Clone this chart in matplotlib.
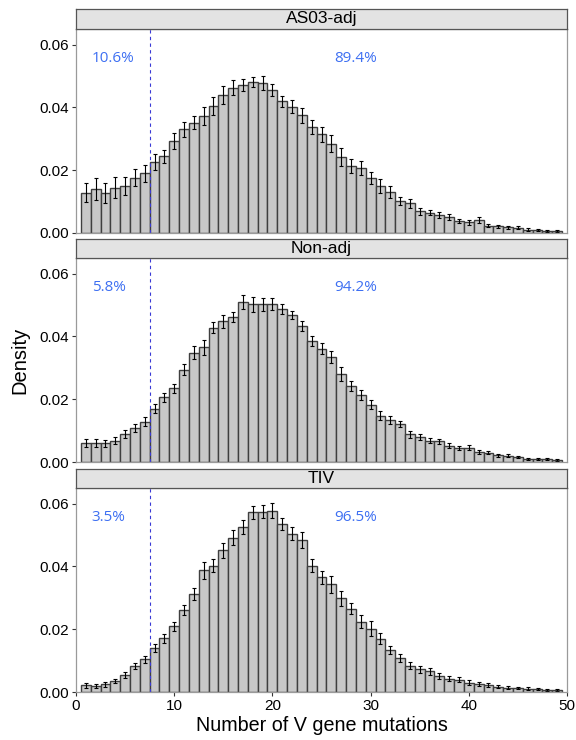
import matplotlib.pyplot as plt
import numpy as np

plt.rcParams['font.family'] = ['Liberation Sans', 'DejaVu Sans']

mutations = np.arange(1, 50)
groups = ['AS03-adj', 'Non-adj', 'TIV']
left_pct = ['10.6%', '5.8%', '3.5%']
right_pct = ['89.4%', '94.2%', '96.5%']

as03 = [0.0128, 0.0141, 0.0127, 0.0144, 0.0151, 0.0176, 0.0190, 0.0226, 0.0244, 0.0293,
        0.0330, 0.0352, 0.0374, 0.0404, 0.0439, 0.0463, 0.0472, 0.0480, 0.0477, 0.0456,
        0.0420, 0.0402, 0.0375, 0.0338, 0.0314, 0.0284, 0.0242, 0.0213, 0.0207, 0.0175,
        0.0149, 0.0130, 0.0103, 0.0094, 0.0069, 0.0065, 0.0058, 0.0051, 0.0038, 0.0034,
        0.0042, 0.0023, 0.0021, 0.0018, 0.0017, 0.0011, 0.0010, 0.0007, 0.0006]
as03_err = [0.0030, 0.0035, 0.0032, 0.0033, 0.0029, 0.0027, 0.0027, 0.0025, 0.0022, 0.0026,
            0.0024, 0.0021, 0.0029, 0.0028, 0.0029, 0.0024, 0.0020, 0.0016, 0.0022, 0.0018,
            0.0018, 0.0021, 0.0023, 0.0022, 0.0024, 0.0027, 0.0028, 0.0022, 0.0023, 0.0020,
            0.0022, 0.0020, 0.0013, 0.0015, 0.0011, 0.0009, 0.0010, 0.0009, 0.0007, 0.0008,
            0.0009, 0.0005, 0.0005, 0.0005, 0.0004, 0.0004, 0.0003, 0.0003, 0.0003]

nonadj = [0.0061, 0.0061, 0.0059, 0.0068, 0.0088, 0.0107, 0.0129, 0.0170, 0.0206, 0.0235,
          0.0294, 0.0348, 0.0365, 0.0428, 0.0448, 0.0461, 0.0511, 0.0502, 0.0502, 0.0502,
          0.0486, 0.0468, 0.0434, 0.0386, 0.0361, 0.0335, 0.0280, 0.0243, 0.0214, 0.0183,
          0.0148, 0.0134, 0.0120, 0.0088, 0.0079, 0.0067, 0.0066, 0.0052, 0.0044, 0.0046,
          0.0032, 0.0030, 0.0022, 0.0020, 0.0016, 0.0010, 0.0010, 0.0009, 0.0006]
nonadj_err = [0.0012, 0.0012, 0.0011, 0.0012, 0.0013, 0.0013, 0.0013, 0.0014, 0.0015, 0.0015,
              0.0018, 0.0021, 0.0024, 0.0017, 0.0020, 0.0016, 0.0022, 0.0024, 0.0022, 0.0019,
              0.0016, 0.0013, 0.0016, 0.0016, 0.0017, 0.0019, 0.0022, 0.0016, 0.0016, 0.0015,
              0.0014, 0.0012, 0.0010, 0.0010, 0.0009, 0.0008, 0.0008, 0.0008, 0.0007, 0.0008,
              0.0006, 0.0005, 0.0005, 0.0004, 0.0004, 0.0003, 0.0003, 0.0003, 0.0003]

tiv = [0.0021, 0.0020, 0.0024, 0.0035, 0.0055, 0.0083, 0.0104, 0.0140, 0.0171, 0.0209,
       0.0260, 0.0313, 0.0388, 0.0403, 0.0451, 0.0492, 0.0526, 0.0572, 0.0575, 0.0578,
       0.0536, 0.0504, 0.0485, 0.0403, 0.0365, 0.0343, 0.0298, 0.0266, 0.0224, 0.0202,
       0.0170, 0.0135, 0.0109, 0.0084, 0.0072, 0.0066, 0.0050, 0.0043, 0.0039, 0.0030,
       0.0026, 0.0022, 0.0017, 0.0014, 0.0013, 0.0011, 0.0010, 0.0005, 0.0005]
tiv_err = [0.0008, 0.0007, 0.0007, 0.0007, 0.0009, 0.0010, 0.0012, 0.0013, 0.0014, 0.0015,
           0.0016, 0.0019, 0.0027, 0.0022, 0.0023, 0.0025, 0.0022, 0.0020, 0.0020, 0.0024,
           0.0020, 0.0021, 0.0026, 0.0022, 0.0020, 0.0027, 0.0024, 0.0017, 0.0020, 0.0024,
           0.0017, 0.0013, 0.0012, 0.0011, 0.0011, 0.0011, 0.0009, 0.0008, 0.0008, 0.0007,
           0.0007, 0.0006, 0.0005, 0.0005, 0.0004, 0.0004, 0.0003, 0.0003, 0.0003]

values = [as03, nonadj, tiv]
errors = [as03_err, nonadj_err, tiv_err]
cutoff = 7.5

fig = plt.figure(figsize=(5.76, 7.40), dpi=100)
H = 740.0
left, right = 76 / 576, 567 / 576
# (axes bottom px, axes top px, strip top px) measured from figure bottom
boxes = [(507, 711, 731), (278, 482, 501), (48, 252, 271)]

for i, (bot, top, stop) in enumerate(boxes):
    ax = fig.add_axes([left, bot / H, right - left, (top - bot) / H])
    ax.bar(mutations, values[i], width=1.0, color='#c8c8c8', edgecolor='#3f3f3f', linewidth=1.0)
    ax.errorbar(mutations, values[i], yerr=errors[i], fmt='none', ecolor='black',
                elinewidth=0.8, capsize=1.2, capthick=0.8)
    ax.axvline(cutoff, color='#3a3ad6', linestyle=(0, (3, 3)), linewidth=0.8)
    ax.text(1.6, 0.0555, left_pct[i], color='#3d6ff2', fontsize=11, va='center',
            family=['Open Sans', 'DejaVu Sans'])
    ax.text(26.3, 0.0555, right_pct[i], color='#3d6ff2', fontsize=11, va='center',
            family=['Open Sans', 'DejaVu Sans'])
    ax.set_xlim(0, 50)
    ax.set_ylim(0, 0.065)
    ax.set_yticks([0, 0.02, 0.04, 0.06])
    ax.set_yticklabels(['0.00', '0.02', '0.04', '0.06'])
    ax.set_xticks([0, 10, 20, 30, 40, 50])
    for s in ax.spines.values():
        s.set_color('#9a9a9a')
        s.set_linewidth(0.9)
    ax.tick_params(axis='both', colors='#333333', labelcolor='black', labelsize=11,
                   length=3, width=0.8, pad=2)
    if i < 2:
        ax.tick_params(axis='x', bottom=False, labelbottom=False)
    else:
        ax.set_xlabel('Number of V gene mutations', fontsize=14.2, labelpad=2)
    if i == 1:
        ax.set_ylabel('Density', fontsize=14.5, labelpad=7)

    sax = fig.add_axes([left, top / H, right - left, (stop - top) / H])
    sax.set_facecolor('#e3e3e3')
    sax.set_xticks([])
    sax.set_yticks([])
    for s in sax.spines.values():
        s.set_color('#555555')
        s.set_linewidth(0.9)
    sax.text(0.5, 0.5, groups[i], ha='center', va='center', fontsize=12.5,
             transform=sax.transAxes)

fig.savefig('out.png', dpi=100)
